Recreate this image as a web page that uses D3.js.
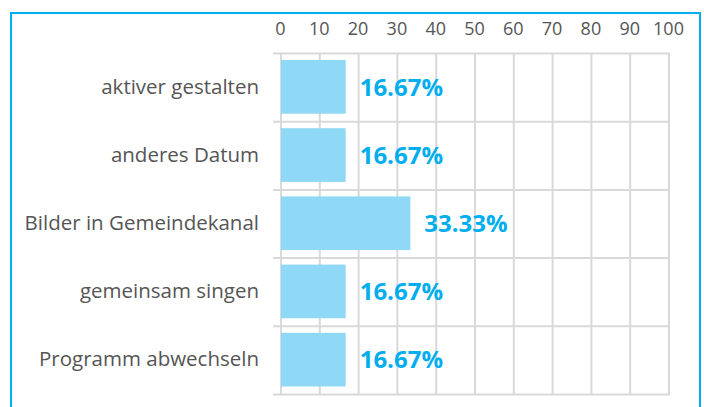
<!DOCTYPE html>
<html><head><meta charset="utf-8">
<script src="https://cdn.jsdelivr.net/npm/d3@7"></script>
<style>body{margin:0;background:#fff;} svg{display:block;}</style>
</head><body>
<svg id="c" width="704" height="407"></svg>
<script>
const categories = ["aktiver gestalten","anderes Datum","Bilder in Gemeindekanal","gemeinsam singen","Programm abwechseln"];
const values = [16.67,16.67,33.33,16.67,16.67];
const valueLabels = ["16.67%","16.67%","33.33%","16.67%","16.67%"];
const ticks = [0,10,20,30,40,50,60,70,80,90,100];

const svg = d3.select("#c");
const blue = "#00aeef", barFill = "#8fd9f6", grid = "#d9d9d9", txt = "#555";

svg.append("rect").attr("x",11).attr("y",13).attr("width",689).attr("height",420)
  .attr("fill","none").attr("stroke",blue).attr("stroke-width",2);

const x = d3.scaleLinear().domain([0,100]).range([281,669]);
const y = d3.scaleBand().domain(categories).range([53.5,394.5]).paddingInner(0).paddingOuter(0);

// vertical grid
const g = svg.append("g");
g.selectAll("line.v").data(ticks).join("line")
  .attr("x1",d=>x(d)).attr("x2",d=>x(d)).attr("y1",53.5).attr("y2",394.5)
  .attr("stroke",grid).attr("stroke-width",2);
// horizontal grid
const hs = categories.map(c=>y(c)).concat([y.range()[1]]);
g.selectAll("line.h").data(hs).join("line")
  .attr("x1",273).attr("x2",670).attr("y1",d=>d).attr("y2",d=>d)
  .attr("stroke",grid).attr("stroke-width",2);

// top axis
const axis = d3.axisTop(x).tickValues(ticks).tickSize(0).tickPadding(0);
const ax = svg.append("g").attr("transform","translate(-1,35)").call(axis);
ax.select(".domain").remove();
ax.selectAll("text").attr("font-family","'Open Sans',sans-serif").attr("font-size",18).attr("fill",txt);

// bars
const bh = y.bandwidth();
svg.selectAll("rect.bar").data(values).join("rect")
  .attr("x",x(0)).attr("y",(d,i)=>y(categories[i])+6.5)
  .attr("width",d=>x(d)-x(0)).attr("height",bh-14.5)
  .attr("fill",barFill);

// value labels
svg.selectAll("text.val").data(values).join("text")
  .attr("x",d=>x(d)+14).attr("y",(d,i)=>y(categories[i])+bh/2+8)
  .attr("font-family","'Open Sans',sans-serif").attr("font-weight","bold").attr("font-size",24)
  .attr("fill",blue).text((d,i)=>valueLabels[i]);

// category labels
svg.selectAll("text.cat").data(categories).join("text")
  .attr("x",259).attr("y",d=>y(d)+bh/2+6)
  .attr("text-anchor","end").attr("font-family","'Open Sans',sans-serif").attr("font-size",20.5)
  .attr("fill",txt).text(d=>d);
</script>
</body></html>
